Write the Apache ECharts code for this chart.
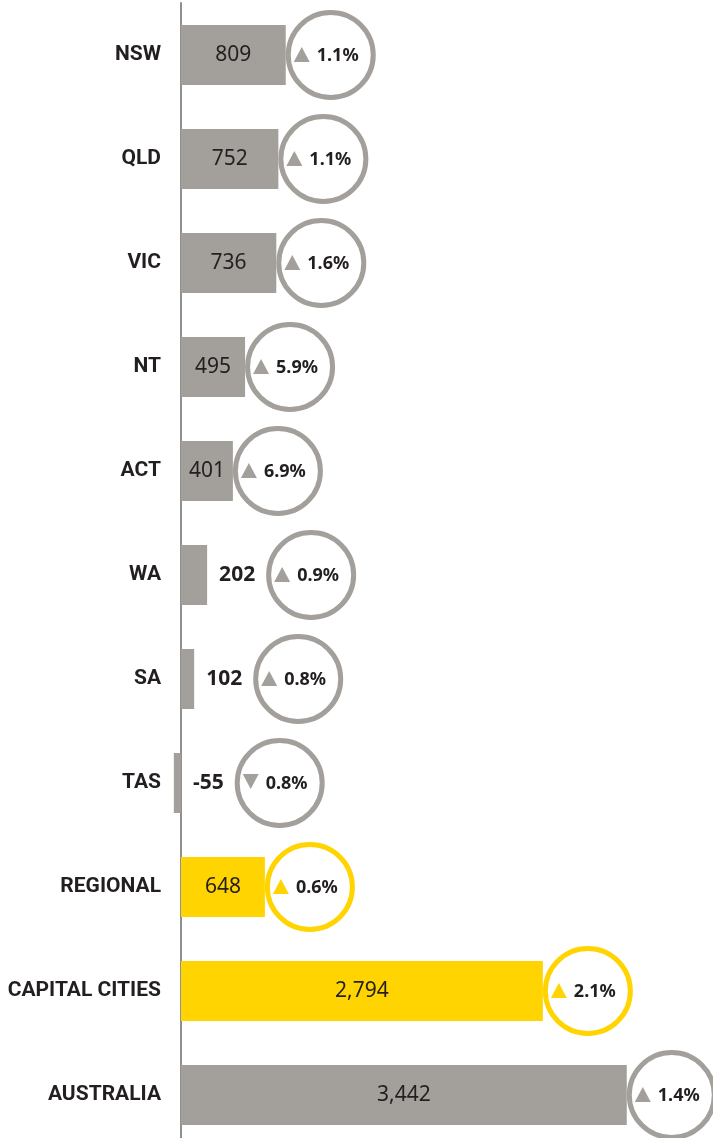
<!DOCTYPE html>
<html>
<head>
<meta charset="utf-8">
<script src="https://cdn.jsdelivr.net/npm/echarts@6/dist/echarts.min.js"></script>
<style>
  html, body { margin: 0; padding: 0; background: #fff; }
  #chart { width: 713px; height: 1138px; }
</style>
</head>
<body>
<div id="chart"></div>
<script>
const categories = ['NSW', 'QLD', 'VIC', 'NT', 'ACT', 'WA', 'SA', 'TAS', 'REGIONAL', 'CAPITAL CITIES', 'AUSTRALIA'];
const values = [809, 752, 736, 495, 401, 202, 102, -55, 648, 2794, 3442];
const changes = [1.1, 1.1, 1.6, 5.9, 6.9, 0.9, 0.8, 0.8, 0.6, 2.1, 1.4];
const directions = ['up', 'up', 'up', 'up', 'up', 'up', 'up', 'down', 'up', 'up', 'up'];
const highlighted = ['REGIONAL', 'CAPITAL CITIES'];

const GREY = '#a39f9b';
const YELLOW = '#ffd400';
const INK = '#231f20';
const NUM_FONT = '"Noto Sans", "Open Sans", sans-serif';
const CAT_FONT = 'Roboto, "Liberation Sans", sans-serif';
const SMALL = 300; // bars shorter than this get their number outside

const colorOf = i => highlighted.includes(categories[i]) ? YELLOW : GREY;
const fmt = v => echarts.format.addCommas(v);

const ctx = document.createElement('canvas').getContext('2d');
function textWidth(t, font) {
  ctx.font = font;
  return ctx.measureText(t).width;
}

function renderBadge(params, api) {
  const i = params.dataIndex;
  const v = api.value(0);
  const zero = api.coord([0, i]);
  const end = api.coord([v, i]);
  const y = end[1];
  const color = colorOf(i);
  const children = [];
  let left = end[0];
  if (Math.abs(v) < SMALL) {
    const x0 = Math.max(end[0], zero[0]) + 12;
    const txt = fmt(v);
    children.push({
      type: 'text',
      style: { x: x0, y: y, text: txt, fill: INK, fontSize: 21, fontWeight: 'bold',
               fontFamily: NUM_FONT, align: 'left', verticalAlign: 'middle' }
    });
    left = x0 + textWidth(txt, 'bold 21px ' + NUM_FONT) + 11;
  }
  const cx = left + 45;
  children.push({
    type: 'circle',
    shape: { cx: cx, cy: y, r: 42.5 },
    style: { fill: '#fff', stroke: color, lineWidth: 5 }
  });
  const tx = cx - 37, tw = 16;
  const pts = directions[i] === 'up'
    ? [[tx, y + 7], [tx + tw, y + 7], [tx + tw / 2, y - 8]]
    : [[tx, y - 9], [tx + tw, y - 9], [tx + tw / 2, y + 6]];
  children.push({ type: 'polygon', shape: { points: pts }, style: { fill: color } });
  children.push({
    type: 'text',
    style: { x: cx - 14, y: y + 1, text: changes[i].toFixed(1) + '%', fill: INK,
             fontSize: 18, fontWeight: 'bold', fontFamily: NUM_FONT,
             align: 'left', verticalAlign: 'middle' }
  });
  return { type: 'group', children: children };
}

const chart = echarts.init(document.getElementById('chart'));
chart.setOption({
  animation: false,
  grid: { left: 168, right: 1, top: 3, bottom: -9, containLabel: false, outerBoundsMode: 'none' },
  xAxis: {
    type: 'value', min: -100, max: 4100,
    show: false
  },
  yAxis: {
    type: 'category',
    inverse: true,
    data: categories,
    axisLine: { onZero: true, lineStyle: { color: '#8f8f8f', width: 2 } },
    axisTick: { show: false },
    axisLabel: {
      margin: 7, color: INK, fontSize: 21, fontWeight: 'bold', fontFamily: CAT_FONT
    }
  },
  series: [
    {
      type: 'bar',
      barWidth: 60,
      data: values.map((v, i) => ({ value: v, itemStyle: { color: colorOf(i) } })),
      label: {
        show: true,
        position: 'inside',
        color: INK,
        fontSize: 21,
        fontFamily: NUM_FONT,
        formatter: p => Math.abs(p.value) < SMALL ? '' : fmt(p.value)
      },
      z: 2
    },
    {
      type: 'custom',
      renderItem: renderBadge,
      data: values.map((v, i) => [v, i]),
      encode: { x: 0, y: 1 },
      z: 3
    }
  ]
});
</script>
</body>
</html>
